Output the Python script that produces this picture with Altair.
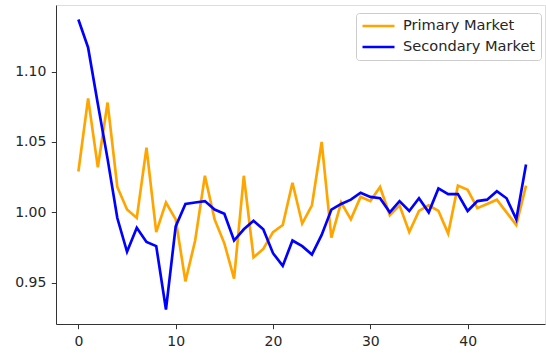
import altair as alt
import pandas as pd

# Monthly ratio series for the two markets
periods = list(range(47))

primary = [
    1.029, 1.081, 1.032, 1.078, 1.018, 1.002, 0.996, 1.046, 0.986, 1.007,
    0.995, 0.951, 0.980, 1.026, 0.995, 0.978, 0.953, 1.026, 0.968, 0.974,
    0.986, 0.991, 1.021, 0.992, 1.005, 1.050, 0.982, 1.007, 0.995, 1.011,
    1.008, 1.018, 0.998, 1.005, 0.986, 1.001, 1.005, 1.001, 0.985, 1.019,
    1.016, 1.003, 1.006, 1.009, 1.000, 0.991, 1.019,
]

secondary = [
    1.137, 1.117, 1.077, 1.038, 0.996, 0.972, 0.989, 0.979, 0.976, 0.931,
    0.990, 1.006, 1.007, 1.008, 1.002, 0.999, 0.980, 0.988, 0.994, 0.988,
    0.971, 0.962, 0.980, 0.976, 0.970, 0.984, 1.002, 1.006, 1.009, 1.014,
    1.011, 1.010, 1.000, 1.008, 1.001, 1.010, 1.000, 1.017, 1.013, 1.013,
    1.001, 1.008, 1.009, 1.015, 1.010, 0.995, 1.034,
]

series_names = ["Primary Market", "Secondary Market"]
series_colors = ["#FFA500", "#0000FF"]

x_ticks = [0, 10, 20, 30, 40]
y_ticks = [0.95, 1.00, 1.05, 1.10]

df = pd.concat(
    [
        pd.DataFrame({"t": periods, "value": primary, "market": series_names[0]}),
        pd.DataFrame({"t": periods, "value": secondary, "market": series_names[1]}),
    ],
    ignore_index=True,
)

FONT = "DejaVu Sans"
AXIS_COLOR = "#333333"

axis_style = dict(
    title=None,
    grid=False,
    domain=True,
    domainColor=AXIS_COLOR,
    tickColor=AXIS_COLOR,
    tickSize=4.7,
    tickWidth=1,
    labelFont=FONT,
    labelFontSize=14,
    labelColor="#262626",
    labelPadding=5.5,
)

chart = (
    alt.Chart(df)
    .mark_line(strokeWidth=2.67)
    .encode(
        x=alt.X(
            "t:Q",
            scale=alt.Scale(domain=[-2.3, 47.95], nice=False, zero=False),
            axis=alt.Axis(values=x_ticks, format="d", **axis_style),
        ),
        y=alt.Y(
            "value:Q",
            scale=alt.Scale(domain=[0.9207, 1.1473], nice=False, zero=False),
            axis=alt.Axis(values=y_ticks, format=".2f", **axis_style),
        ),
        color=alt.Color(
            "market:N",
            scale=alt.Scale(domain=series_names, range=series_colors),
            legend=alt.Legend(
                title=None,
                orient="none",
                legendX=300,
                legendY=8,
                symbolType="stroke",
                symbolSize=1024,
                symbolStrokeWidth=2.67,
                labelFont=FONT,
                labelFontSize=14.6,
                labelColor="#262626",
                labelOffset=7,
                strokeColor="#cccccc",
                fillColor="#ffffff",
                padding=5,
                cornerRadius=3,
                rowPadding=5,
                clipHeight=16,
            ),
        ),
        order="t:Q",
    )
    .properties(
        width=489,
        height=319,
        autosize=alt.AutoSizeParams(type="none"),
        padding={"left": 56, "top": 5, "right": 1, "bottom": 29},
    )
    .configure_view(stroke=AXIS_COLOR, strokeWidth=1)
    .configure(background="white")
)

chart.save("out.html", embed_options={"renderer": "svg", "actions": False})
